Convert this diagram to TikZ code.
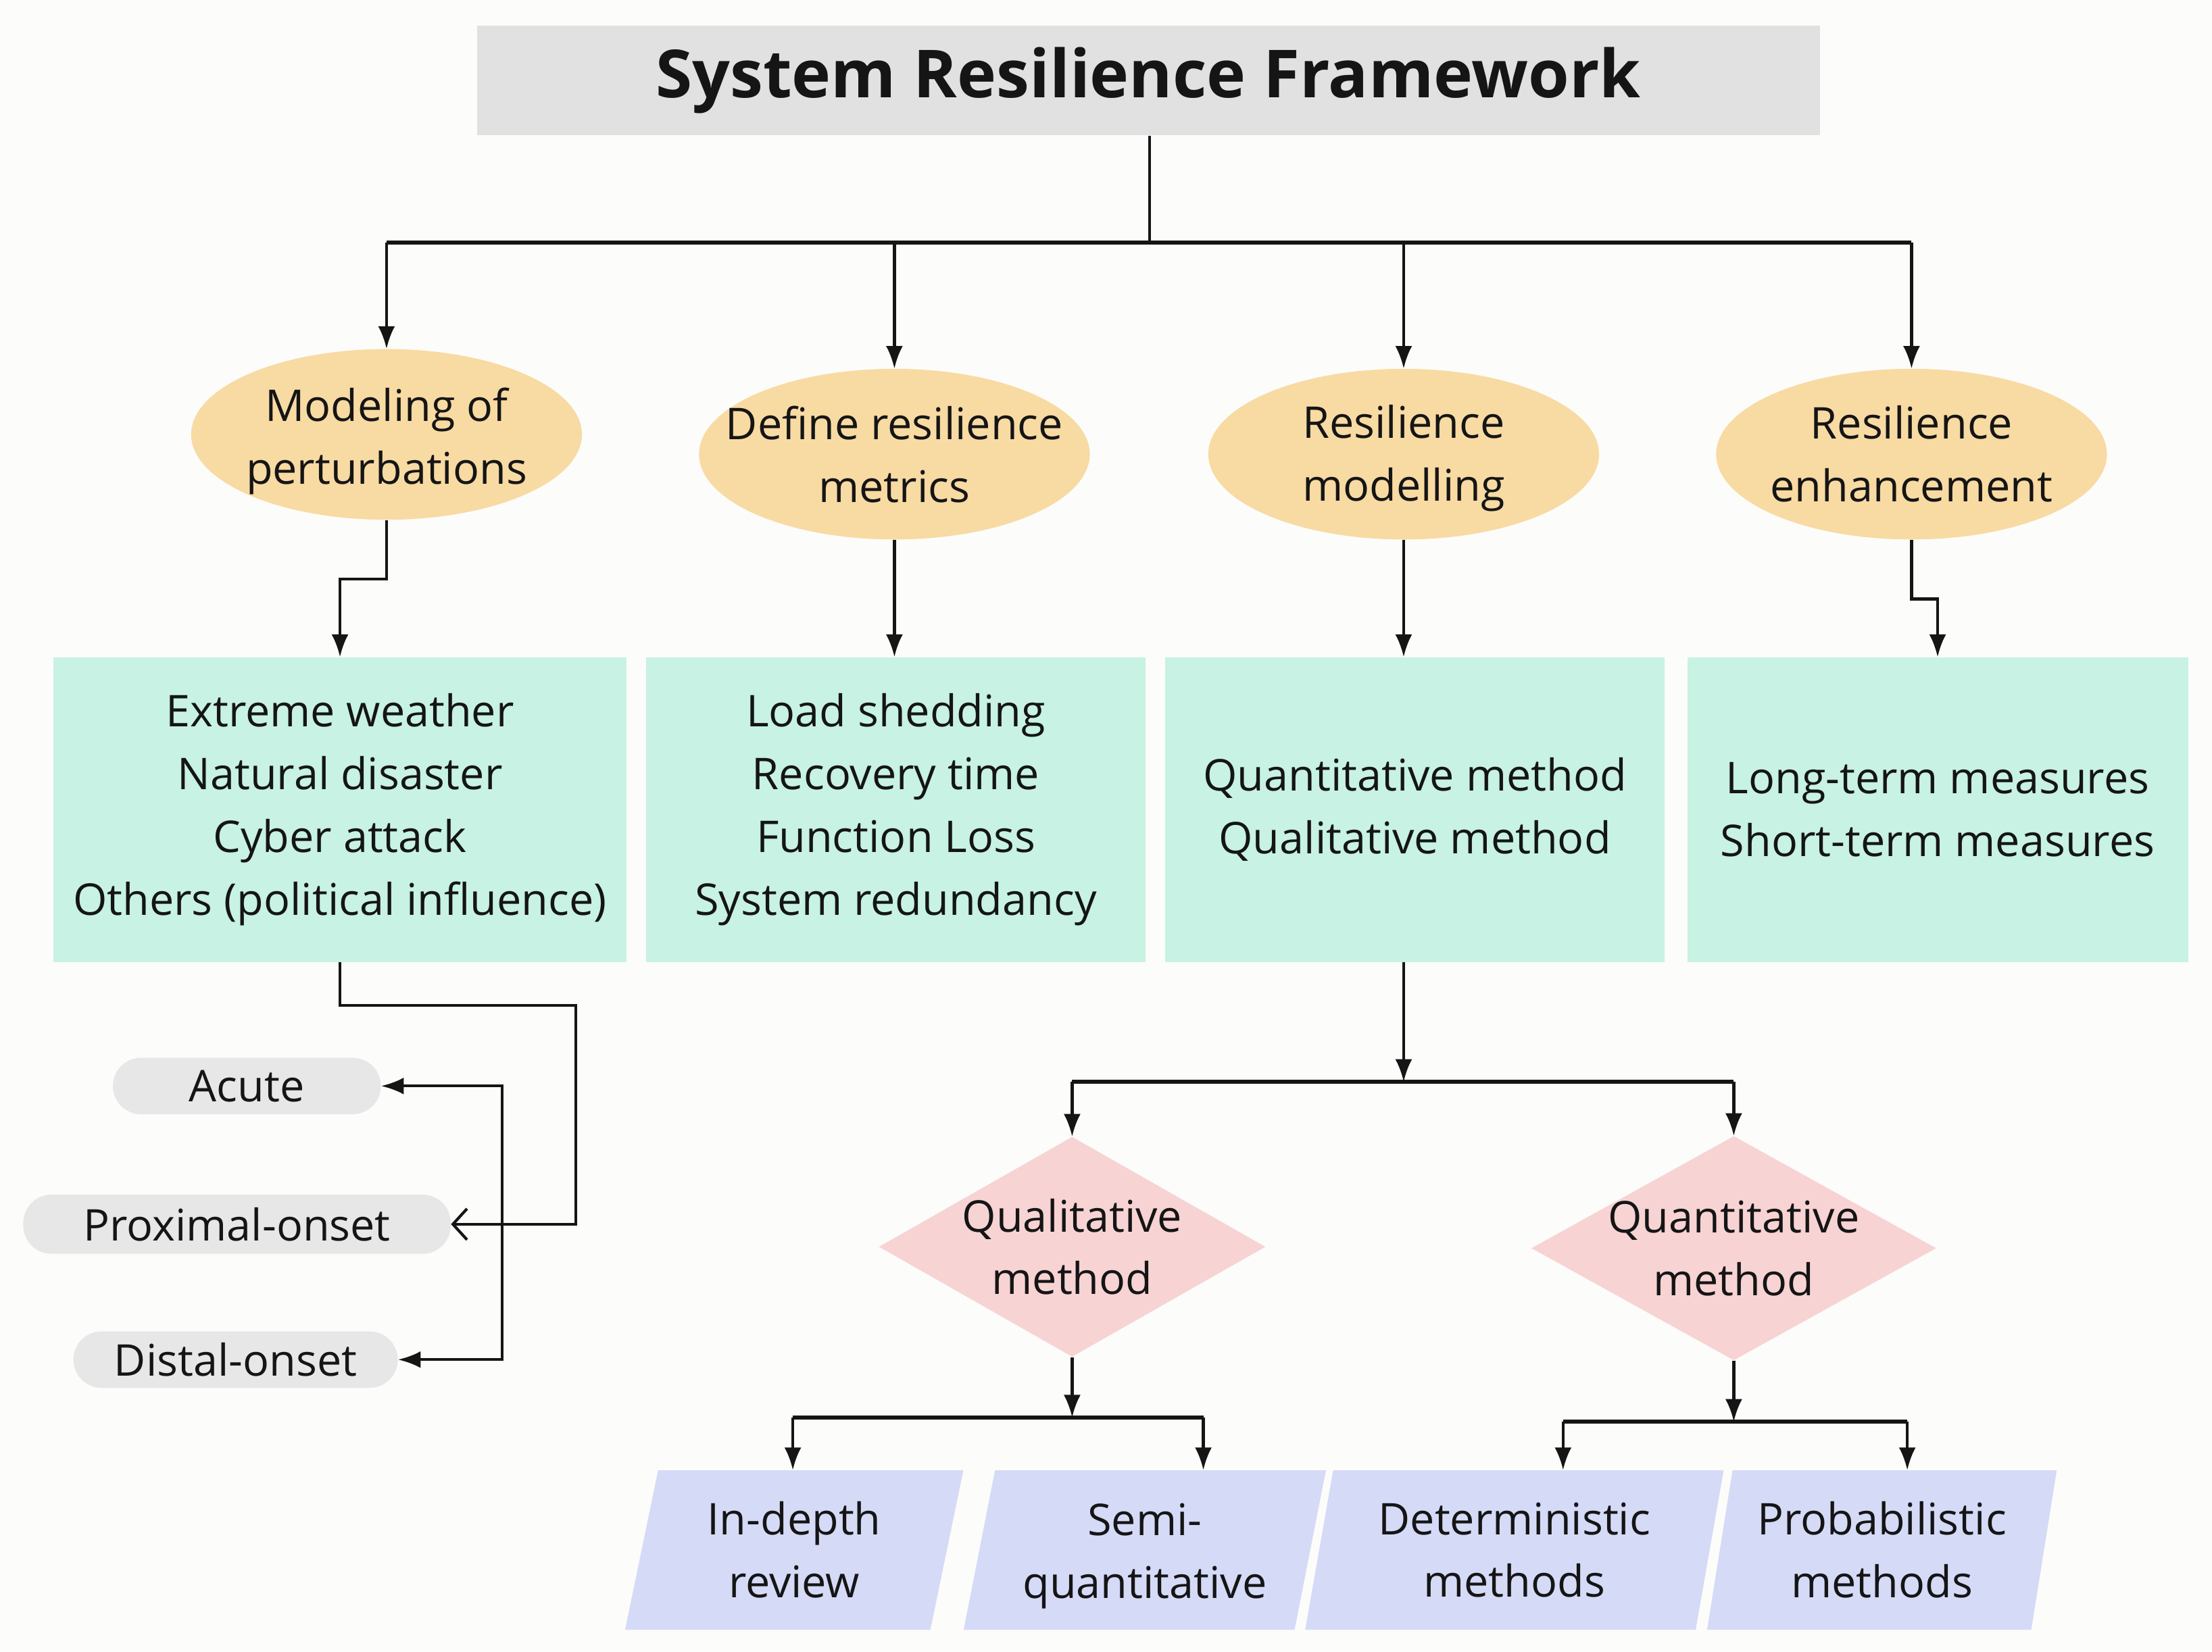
\documentclass[tikz,border=0pt]{standalone}
\usepackage{fontspec}
\setmainfont{Open Sans}
\usetikzlibrary{shapes.geometric,arrows.meta,calc}
\definecolor{bgcol}{HTML}{FCFCFA}
\definecolor{titlegray}{HTML}{E1E1E1}
\definecolor{ovalfill}{HTML}{F8DAA3}
\definecolor{boxfill}{HTML}{C7F2E4}
\definecolor{diafill}{HTML}{F8D3D4}
\definecolor{parafill}{HTML}{D5DAF7}
\definecolor{pillfill}{HTML}{E7E7E7}
\definecolor{ink}{HTML}{151515}
\begin{document}
\begin{tikzpicture}[x=1pt,y=-1pt,
  every node/.style={font=\fontsize{31}{44.5}\selectfont, text=ink},
  conn/.style={line width=2pt, draw=ink},
  arr/.style={conn,-{Latex[length=16pt,width=12pt]}},
  busline/.style={line width=3.2pt, draw=ink},
  titlebox/.style={fill=titlegray, minimum width=952pt, minimum height=78pt, inner sep=0pt},
  oval/.style={ellipse, fill=ovalfill, minimum width=277pt, minimum height=121pt, inner sep=0pt},
  infobox/.style={fill=boxfill, minimum height=216pt, inner sep=0pt, align=center},
  pill/.style={fill=pillfill, rounded corners=20pt, inner sep=0pt},
  choice/.style={diamond, fill=diafill, inner sep=0pt},
  para/.style={trapezium, trapezium left angle=78, trapezium right angle=102, trapezium stretches=true, fill=parafill, minimum height=113pt, inner sep=2pt, align=center},
  lbl/.style={align=center, inner sep=0pt}
]
\fill[bgcol] (0,0) rectangle (1568,1171);
\useasboundingbox (0,0) rectangle (1568,1171);

% title
\node[titlebox] (title) at (814,57) {\fontsize{47}{56}\selectfont\bfseries System Resilience Framework};

% ovals
\node[oval] (e1) at (274,308) [label={[lbl, yshift=-5pt]center:{Modeling of\\perturbations}}] {};
\node[oval] (e2) at (634,322) [label={[lbl]center:{Define resilience\\metrics}}] {};
\node[oval] (e3) at (995,322) [label={[lbl, yshift=-3pt]center:{Resilience\\modelling}}] {};
\node[oval] (e4) at (1355,322) [label={[lbl]center:{Resilience\\enhancement}}] {};

% info boxes
\node[infobox, minimum width=406pt] (b1) at (241,574) {Extreme weather\\Natural disaster\\Cyber attack\\Others (political influence)};
\node[infobox, minimum width=354pt] (b2) at (635,574) {Load shedding\\Recovery time\\Function Loss\\System redundancy};
\node[infobox, minimum width=354pt] (b3) at (1003,574) {Quantitative method\\Qualitative method};
\node[infobox, minimum width=355pt] (b4) at (1373.5,574) {Long-term measures\\Short-term measures};

% pills
\node[pill, minimum width=190pt, minimum height=40pt] (acute) at (175,770) {Acute};
\node[pill, minimum width=303pt, minimum height=42pt] (prox) at (168,868) {Proximal-onset};
\node[pill, minimum width=230pt, minimum height=40pt] (dist) at (167,964) {Distal-onset};

% diamonds
\node[choice, minimum width=274pt, minimum height=156pt] (d1) at (760,884) [label={[lbl]center:{Qualitative\\method}}] {};
\node[choice, minimum width=287pt, minimum height=159pt] (d2) at (1229,885) [label={[lbl]center:{Quantitative\\method}}] {};

% parallelograms
\node[para, minimum width=240pt] (p1) at (563,1099) {In-depth\\review};
\node[para, minimum width=257pt] (p2) at (811.5,1099) {\strut Semi-\\quantitative};
\node[para, minimum width=297pt] (p3) at (1073.5,1099) {Deterministic\\methods};
\node[para, minimum width=248pt] (p4) at (1334,1099) {Probabilistic\\methods};

% top tree
\coordinate (bus1) at (815,172);
\draw[conn] (title.south -| bus1) -- (bus1);
\draw[busline] (e1.north |- bus1) -- (e4.north |- bus1);
\foreach \n in {e1,e2,e3,e4} \draw[arr] (\n.north |- bus1) -- (\n.north);

% ovals to boxes
\draw[arr] (e1.south) -- ++(0,42) -| (b1.north);
\draw[arr] (e2.south) -- (e2.south |- b2.north);
\draw[arr] (e3.south) -- (e3.south |- b3.north);
\draw[arr] (e4.south) -- ++(0,42) -| (b4.north);

% perturbation types
\coordinate (r1) at (408,713);
\draw[conn, -{Straight Barb[length=10pt,width=22pt,line width=2pt]}] (b1.south) |- (r1) |- (prox.east);
\coordinate (v1) at (356,868);
\draw[conn, {Latex[length=16pt,width=12pt]}-{Latex[length=16pt,width=12pt]}] (acute.east) -| (v1) |- (dist.east);

% modelling tree
\coordinate (bus2) at (995,767);
\draw[arr] (b3.south -| bus2) -- (bus2);
\draw[busline] (d1.north |- bus2) -- (d2.north |- bus2);
\draw[arr] (d1.north |- bus2) -- (d1.north);
\draw[arr] (d2.north |- bus2) -- (d2.north);

% qualitative branch
\coordinate (bus3) at (760,1005);
\coordinate (q1) at (562,1005);
\coordinate (q2) at (853,1005);
\draw[arr] (d1.south) -- (bus3);
\draw[busline] (q1) -- (q2);
\draw[arr] (q1) -- (q1 |- p1.north);
\draw[arr] (q2) -- (q2 |- p2.north);

% quantitative branch
\coordinate (bus4) at (1229,1008);
\coordinate (q3) at (1108,1008);
\coordinate (q4) at (1352,1008);
\draw[arr] (d2.south) -- (bus4);
\draw[busline] (q3) -- (q4);
\draw[arr] (q3) -- (q3 |- p3.north);
\draw[arr] (q4) -- (q4 |- p4.north);
\end{tikzpicture}
\end{document}
